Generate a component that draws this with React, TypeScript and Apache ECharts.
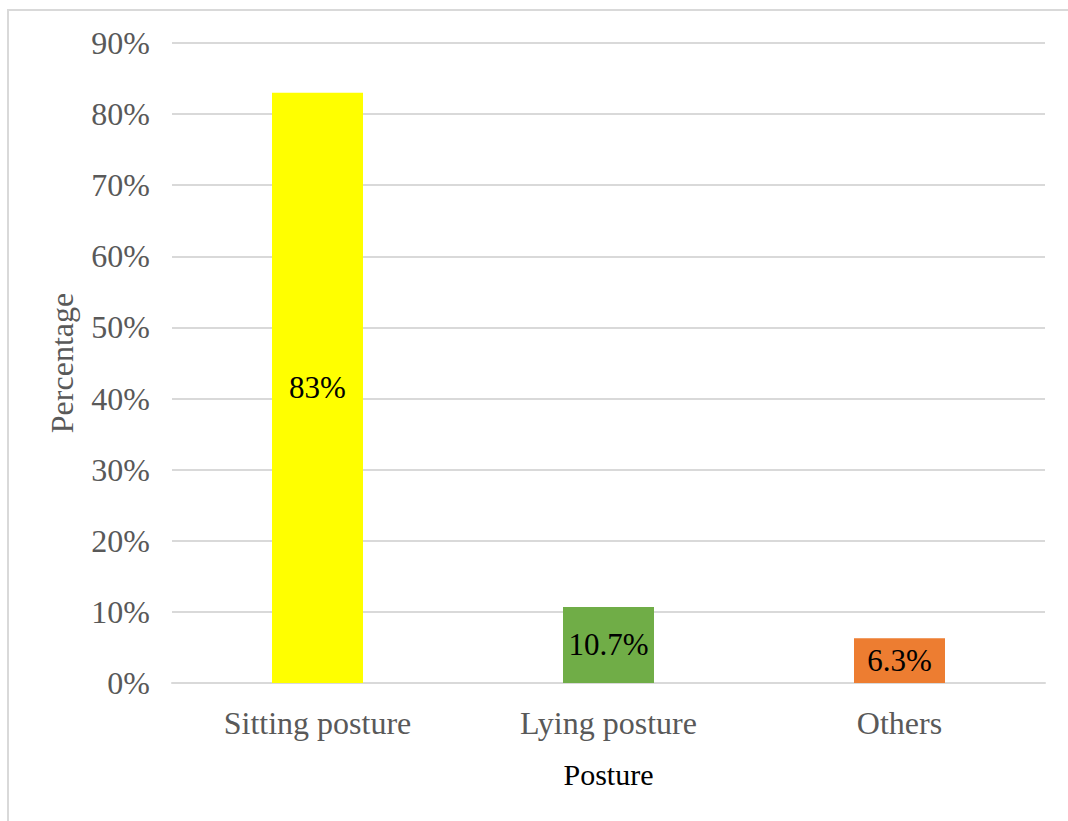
import React, { useEffect, useRef } from "react";
import * as echarts from "echarts";

const categories = ["Sitting posture", "Lying posture", "Others"];
const percentages = [83, 10.7, 6.3];
const barColors = ["#FFFF00", "#70AD47", "#ED7D31"];
const yTicks = { min: 0, max: 90, interval: 10 };

const FONT = "'Liberation Serif', 'Times New Roman', serif";

export default function App() {
  const ref = useRef<HTMLDivElement>(null);

  useEffect(() => {
    if (!ref.current) return;
    const chart = echarts.init(ref.current, null, { renderer: "svg" });
    chart.setOption({
      animation: false,
      backgroundColor: "#ffffff",
      textStyle: { fontFamily: FONT },
      graphic: [
        {
          type: "rect",
          shape: { x: 8, y: 10, width: 1100, height: 900 },
          style: { fill: "none", stroke: "#D9D9D9", lineWidth: 2 },
          silent: true,
        },
      ],
      grid: { left: 172, right: 23, top: 43, bottom: 138 },
      xAxis: {
        type: "category",
        data: categories,
        name: "Posture",
        nameLocation: "middle",
        nameGap: 76,
        nameTextStyle: { fontFamily: FONT, fontSize: 30, color: "#000000" },
        axisLine: { show: true, lineStyle: { color: "#D9D9D9", width: 2 } },
        axisTick: { show: false },
        axisLabel: { fontFamily: FONT, fontSize: 32, color: "#595959", margin: 24 },
      },
      yAxis: {
        type: "value",
        min: yTicks.min,
        max: yTicks.max,
        interval: yTicks.interval,
        name: "Percentage",
        nameLocation: "middle",
        nameRotate: 90,
        nameGap: 94,
        nameTextStyle: { fontFamily: FONT, fontSize: 32, color: "#595959" },
        axisLine: { show: false },
        axisTick: { show: false },
        axisLabel: {
          fontFamily: FONT,
          fontSize: 32,
          color: "#595959",
          margin: 22,
          formatter: "{value}%",
        },
        splitLine: { lineStyle: { color: "#D9D9D9", width: 2 } },
      },
      series: [
        {
          type: "bar",
          barWidth: 91,
          data: percentages.map((v, i) => ({
            value: v,
            itemStyle: { color: barColors[i] },
          })),
          label: {
            show: true,
            position: "inside",
            fontFamily: FONT,
            fontSize: 31,
            color: "#000000",
            formatter: (p: any) => `${p.value}%`,
          },
        },
      ],
    });
    return () => chart.dispose();
  }, []);

  return (
    <div
      ref={ref}
      style={{ position: "fixed", left: 0, top: 0, width: 1068, height: 821 }}
    />
  );
}
